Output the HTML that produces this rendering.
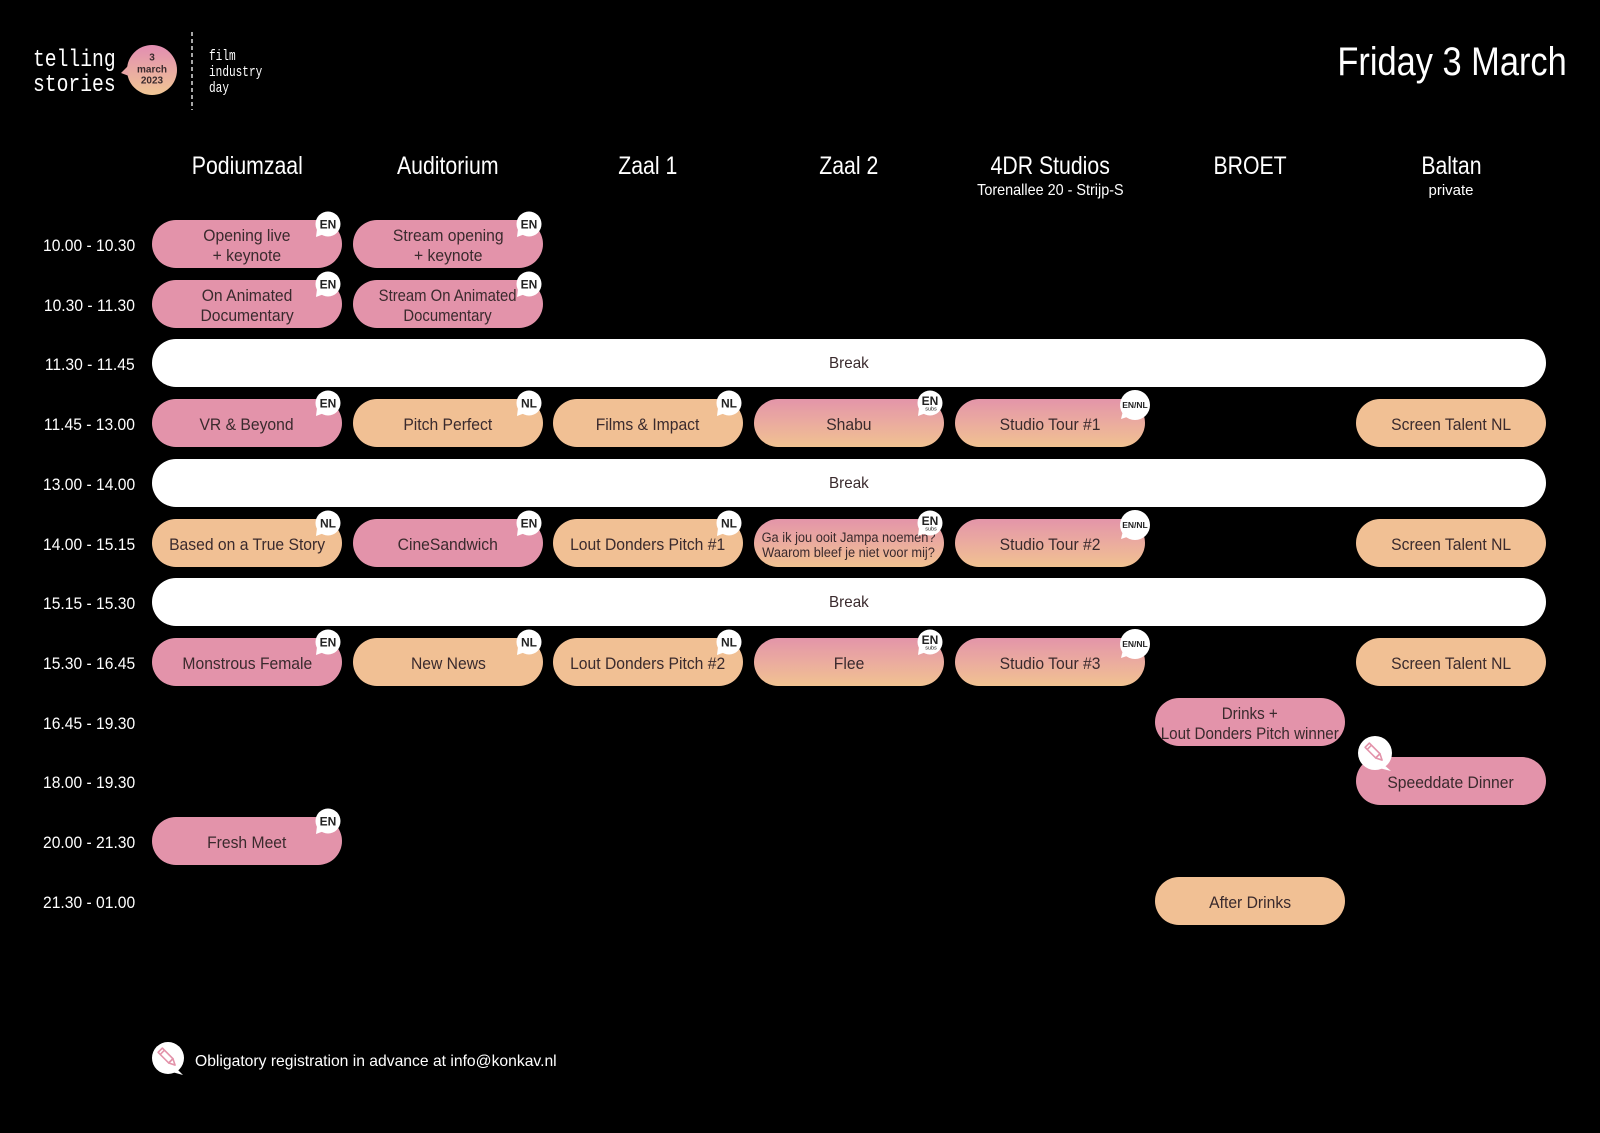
<!DOCTYPE html>
<html><head><meta charset="utf-8">
<style>
*{margin:0;padding:0;box-sizing:border-box}
html,body{width:1600px;height:1133px;background:#000;overflow:hidden}
#c{position:relative;width:1600px;height:1133px;background:#000;font-family:"Liberation Sans",sans-serif}
.a{position:absolute}
.p{position:absolute;width:190px;height:48px;border-radius:24px;display:flex;align-items:center;justify-content:center;text-align:center;color:#3a2a2d;font-size:16.5px;line-height:20px;padding-top:3px}
.p span{display:inline-block;transform:scaleX(.95);white-space:nowrap}
.pk{background:#e393aa}
.pc{background:#f1c094}
.gr{background:linear-gradient(180deg,#e395a9 0%,#eaa9a0 45%,#f1c291 100%)}
.brk{position:absolute;left:152px;width:1394px;height:48px;border-radius:24px;background:#fff;display:flex;align-items:center;justify-content:center;color:#3a2a2d;font-size:16px;padding-top:2px}
.brk span{display:inline-block;transform:scaleX(.95)}
.t{position:absolute;left:0;width:135px;height:48px;text-align:right;color:#fff;font-size:17px;line-height:48px;padding-top:2px}
.t span{display:inline-block;transform:scaleX(.92);transform-origin:right center}
.h{position:absolute;width:190px;text-align:center;color:#fff;font-size:25px;line-height:25px;top:154px}
.h span,.s span{display:inline-block;transform:scaleX(.85)}
.s{position:absolute;width:260px;text-align:center;color:#fff;font-size:16px;line-height:16px;top:183px}
.b{position:absolute}
.b text{font-family:"Liberation Sans",sans-serif;font-weight:bold;fill:#222}
</style></head><body><div id="c">

<!-- logo -->
<div class="a" style="left:33px;top:48px;color:#fff;font-family:'Liberation Mono',monospace;font-size:24px;line-height:25px;transform:scaleX(.82);transform-origin:left top;white-space:nowrap">telling<br>stories</div>
<svg class="a" style="left:118px;top:42px" width="64" height="60" viewBox="0 0 64 60">
<defs><linearGradient id="lg" x1="0" y1="0" x2="0" y2="1"><stop offset="0" stop-color="#e28db2"/><stop offset="1" stop-color="#f0c694"/></linearGradient></defs>
<circle cx="34" cy="28" r="25" fill="url(#lg)"/>
<polygon points="10,24 3,31 11,34" fill="#e9a6a6"/>
<g font-family="Liberation Sans,sans-serif" font-weight="bold" font-size="10" fill="#3a2a2d" text-anchor="middle">
<text x="34" y="18.5">3</text><text x="34" y="30.5">march</text><text x="34" y="41.5">2023</text></g>
</svg>
<svg class="a" style="left:190px;top:32px" width="4" height="78"><line x1="2" y1="0" x2="2" y2="78" stroke="#cfcfcf" stroke-width="1.6" stroke-dasharray="4 3"/></svg>
<div class="a" style="left:209px;top:49px;color:#fff;font-family:'Liberation Mono',monospace;font-size:15px;line-height:16px;transform:scaleX(.74);transform-origin:left top;white-space:nowrap">film<br>industry<br>day</div>

<div class="a" style="right:33px;top:42px;color:#fff;font-size:40px;line-height:40px;white-space:nowrap;transform:scaleX(.86);transform-origin:right top">Friday 3 March</div>

<!-- headers -->
<div class="h" style="left:152px"><span>Podiumzaal</span></div>
<div class="h" style="left:353px"><span>Auditorium</span></div>
<div class="h" style="left:553px"><span>Zaal 1</span></div>
<div class="h" style="left:754px"><span>Zaal 2</span></div>
<div class="h" style="left:955px"><span>4DR Studios</span></div>
<div class="h" style="left:1155px"><span>BROET</span></div>
<div class="h" style="left:1356px"><span>Baltan</span></div>
<div class="s" style="left:920px"><span style="transform:scaleX(.9)">Torenallee 20 - Strijp-S</span></div>
<div class="s" style="left:1321px;font-size:15px"><span style="transform:none">private</span></div>

<!-- time labels -->
<div class="t" style="top:220px"><span>10.00 - 10.30</span></div>
<div class="t" style="top:280px"><span>10.30 - 11.30</span></div>
<div class="t" style="top:339px"><span>11.30 - 11.45</span></div>
<div class="t" style="top:399px"><span>11.45 - 13.00</span></div>
<div class="t" style="top:459px"><span>13.00 - 14.00</span></div>
<div class="t" style="top:519px"><span>14.00 - 15.15</span></div>
<div class="t" style="top:578px"><span>15.15 - 15.30</span></div>
<div class="t" style="top:638px"><span>15.30 - 16.45</span></div>
<div class="t" style="top:698px"><span>16.45 - 19.30</span></div>
<div class="t" style="top:757px"><span>18.00 - 19.30</span></div>
<div class="t" style="top:817px"><span>20.00 - 21.30</span></div>
<div class="t" style="top:877px"><span>21.30 - 01.00</span></div>

<!-- breaks -->
<div class="brk" style="top:339px"><span>Break</span></div>
<div class="brk" style="top:459px"><span>Break</span></div>
<div class="brk" style="top:578px"><span>Break</span></div>

<!-- row 0 -->
<div class="p pk" style="left:152px;top:220px"><span>Opening live<br>+ keynote</span></div>
<div class="p pk" style="left:353px;top:220px"><span>Stream opening<br>+ keynote</span></div>
<!-- row 1 -->
<div class="p pk" style="left:152px;top:280px"><span>On Animated<br>Documentary</span></div>
<div class="p pk" style="left:353px;top:280px"><span style="transform:scaleX(.9)">Stream On Animated<br>Documentary</span></div>
<!-- row 3 -->
<div class="p pk" style="left:152px;top:399px"><span>VR &amp; Beyond</span></div>
<div class="p pc" style="left:353px;top:399px"><span>Pitch Perfect</span></div>
<div class="p pc" style="left:553px;top:399px"><span>Films &amp; Impact</span></div>
<div class="p gr" style="left:754px;top:399px"><span>Shabu</span></div>
<div class="p gr" style="left:955px;top:399px"><span>Studio Tour #1</span></div>
<div class="p pc" style="left:1356px;top:399px"><span>Screen Talent NL</span></div>
<!-- row 5 -->
<div class="p pc" style="left:152px;top:519px"><span>Based on a True Story</span></div>
<div class="p pk" style="left:353px;top:519px"><span>CineSandwich</span></div>
<div class="p pc" style="left:553px;top:519px"><span>Lout Donders Pitch #1</span></div>
<div class="p gr" style="left:754px;top:519px;font-size:13.5px;line-height:15px;padding-top:3px"><span style="transform:scaleX(.95)">Ga ik jou ooit Jampa noemen?<br>Waarom bleef je niet voor mij?</span></div>
<div class="p gr" style="left:955px;top:519px"><span>Studio Tour #2</span></div>
<div class="p pc" style="left:1356px;top:519px"><span>Screen Talent NL</span></div>
<!-- row 7 -->
<div class="p pk" style="left:152px;top:638px"><span>Monstrous Female</span></div>
<div class="p pc" style="left:353px;top:638px"><span>New News</span></div>
<div class="p pc" style="left:553px;top:638px"><span>Lout Donders Pitch #2</span></div>
<div class="p gr" style="left:754px;top:638px"><span>Flee</span></div>
<div class="p gr" style="left:955px;top:638px"><span>Studio Tour #3</span></div>
<div class="p pc" style="left:1356px;top:638px"><span>Screen Talent NL</span></div>
<!-- row 8+ -->
<div class="p pk" style="left:1155px;top:698px"><span style="transform:scaleX(.92)">Drinks +<br>Lout Donders Pitch winner</span></div>
<div class="p pk" style="left:1356px;top:757px"><span>Speeddate Dinner</span></div>
<div class="p pk" style="left:152px;top:817px"><span>Fresh Meet</span></div>
<div class="p pc" style="left:1155px;top:877px"><span>After Drinks</span></div>

<!-- badges -->
<svg class="b" style="left:313px;top:210px" width="30" height="30"><circle cx="15" cy="14" r="12.5" fill="#fff"/><polygon points="4,19 3,27 11,24" fill="#fff"/><text x="15" y="18.5" font-size="12" text-anchor="middle">EN</text></svg>
<svg class="b" style="left:514px;top:210px" width="30" height="30"><circle cx="15" cy="14" r="12.5" fill="#fff"/><polygon points="4,19 3,27 11,24" fill="#fff"/><text x="15" y="18.5" font-size="12" text-anchor="middle">EN</text></svg>
<svg class="b" style="left:313px;top:270px" width="30" height="30"><circle cx="15" cy="14" r="12.5" fill="#fff"/><polygon points="4,19 3,27 11,24" fill="#fff"/><text x="15" y="18.5" font-size="12" text-anchor="middle">EN</text></svg>
<svg class="b" style="left:514px;top:270px" width="30" height="30"><circle cx="15" cy="14" r="12.5" fill="#fff"/><polygon points="4,19 3,27 11,24" fill="#fff"/><text x="15" y="18.5" font-size="12" text-anchor="middle">EN</text></svg>

<svg class="b" style="left:313px;top:389px" width="30" height="30"><circle cx="15" cy="14" r="12.5" fill="#fff"/><polygon points="4,19 3,27 11,24" fill="#fff"/><text x="15" y="18.5" font-size="12" text-anchor="middle">EN</text></svg>
<svg class="b" style="left:514px;top:389px" width="30" height="30"><circle cx="15" cy="14" r="12.5" fill="#fff"/><polygon points="4,19 3,27 11,24" fill="#fff"/><text x="15" y="18.5" font-size="12" text-anchor="middle">NL</text></svg>
<svg class="b" style="left:714px;top:389px" width="30" height="30"><circle cx="15" cy="14" r="12.5" fill="#fff"/><polygon points="4,19 3,27 11,24" fill="#fff"/><text x="15" y="18.5" font-size="12" text-anchor="middle">NL</text></svg>
<svg class="b" style="left:915px;top:389px" width="30" height="30"><circle cx="15" cy="14" r="12.5" fill="#fff"/><polygon points="4,19 3,27 11,24" fill="#fff"/><text x="15" y="16" font-size="12" text-anchor="middle">EN</text><text x="16" y="21.5" font-size="5.5" text-anchor="middle" style="font-weight:normal">subs</text></svg>
<svg class="b" style="left:1118px;top:389px" width="34" height="34"><circle cx="17" cy="16" r="15" fill="#fff"/><polygon points="5,22 3,30 12,27" fill="#fff"/><text x="17" y="19" font-size="8.5" text-anchor="middle">EN/NL</text></svg>

<svg class="b" style="left:313px;top:509px" width="30" height="30"><circle cx="15" cy="14" r="12.5" fill="#fff"/><polygon points="4,19 3,27 11,24" fill="#fff"/><text x="15" y="18.5" font-size="12" text-anchor="middle">NL</text></svg>
<svg class="b" style="left:514px;top:509px" width="30" height="30"><circle cx="15" cy="14" r="12.5" fill="#fff"/><polygon points="4,19 3,27 11,24" fill="#fff"/><text x="15" y="18.5" font-size="12" text-anchor="middle">EN</text></svg>
<svg class="b" style="left:714px;top:509px" width="30" height="30"><circle cx="15" cy="14" r="12.5" fill="#fff"/><polygon points="4,19 3,27 11,24" fill="#fff"/><text x="15" y="18.5" font-size="12" text-anchor="middle">NL</text></svg>
<svg class="b" style="left:915px;top:509px" width="30" height="30"><circle cx="15" cy="14" r="12.5" fill="#fff"/><polygon points="4,19 3,27 11,24" fill="#fff"/><text x="15" y="16" font-size="12" text-anchor="middle">EN</text><text x="16" y="21.5" font-size="5.5" text-anchor="middle" style="font-weight:normal">subs</text></svg>
<svg class="b" style="left:1118px;top:509px" width="34" height="34"><circle cx="17" cy="16" r="15" fill="#fff"/><polygon points="5,22 3,30 12,27" fill="#fff"/><text x="17" y="19" font-size="8.5" text-anchor="middle">EN/NL</text></svg>

<svg class="b" style="left:313px;top:628px" width="30" height="30"><circle cx="15" cy="14" r="12.5" fill="#fff"/><polygon points="4,19 3,27 11,24" fill="#fff"/><text x="15" y="18.5" font-size="12" text-anchor="middle">EN</text></svg>
<svg class="b" style="left:514px;top:628px" width="30" height="30"><circle cx="15" cy="14" r="12.5" fill="#fff"/><polygon points="4,19 3,27 11,24" fill="#fff"/><text x="15" y="18.5" font-size="12" text-anchor="middle">NL</text></svg>
<svg class="b" style="left:714px;top:628px" width="30" height="30"><circle cx="15" cy="14" r="12.5" fill="#fff"/><polygon points="4,19 3,27 11,24" fill="#fff"/><text x="15" y="18.5" font-size="12" text-anchor="middle">NL</text></svg>
<svg class="b" style="left:915px;top:628px" width="30" height="30"><circle cx="15" cy="14" r="12.5" fill="#fff"/><polygon points="4,19 3,27 11,24" fill="#fff"/><text x="15" y="16" font-size="12" text-anchor="middle">EN</text><text x="16" y="21.5" font-size="5.5" text-anchor="middle" style="font-weight:normal">subs</text></svg>
<svg class="b" style="left:1118px;top:628px" width="34" height="34"><circle cx="17" cy="16" r="15" fill="#fff"/><polygon points="5,22 3,30 12,27" fill="#fff"/><text x="17" y="19" font-size="8.5" text-anchor="middle">EN/NL</text></svg>

<svg class="b" style="left:313px;top:807px" width="30" height="30"><circle cx="15" cy="14" r="12.5" fill="#fff"/><polygon points="4,19 3,27 11,24" fill="#fff"/><text x="15" y="18.5" font-size="12" text-anchor="middle">EN</text></svg>

<!-- pencil icon speeddate -->
<svg class="b" style="left:1357px;top:736px" width="40" height="40" viewBox="0 0 40 40">
<circle cx="18" cy="17" r="17" fill="#fff"/><polygon points="26,28 34,35 22,32" fill="#fff"/>
<g transform="rotate(45 18 17)" fill="none" stroke="#e393aa" stroke-width="1.6" stroke-linejoin="round">
<rect x="7" y="14" width="15" height="6"/><line x1="10" y1="14" x2="10" y2="20"/><polygon points="22,14 28,17 22,20"/></g>
</svg>

<!-- footer -->
<svg class="b" style="left:150px;top:1041px" width="40" height="40" viewBox="0 0 40 40">
<circle cx="18" cy="17" r="16" fill="#fff"/><polygon points="26,27 33,34 22,31" fill="#fff"/>
<g transform="rotate(45 18 17)" fill="none" stroke="#e393aa" stroke-width="1.6" stroke-linejoin="round">
<rect x="7" y="14" width="15" height="6"/><line x1="10" y1="14" x2="10" y2="20"/><polygon points="22,14 28,17 22,20"/></g>
</svg>
<div class="a" style="left:195px;top:1052px;color:#fff;font-size:16px;line-height:20px;white-space:nowrap;transform:scaleX(.98);transform-origin:left top">Obligatory registration in advance at info@konkav.nl</div>

</div></body></html>
